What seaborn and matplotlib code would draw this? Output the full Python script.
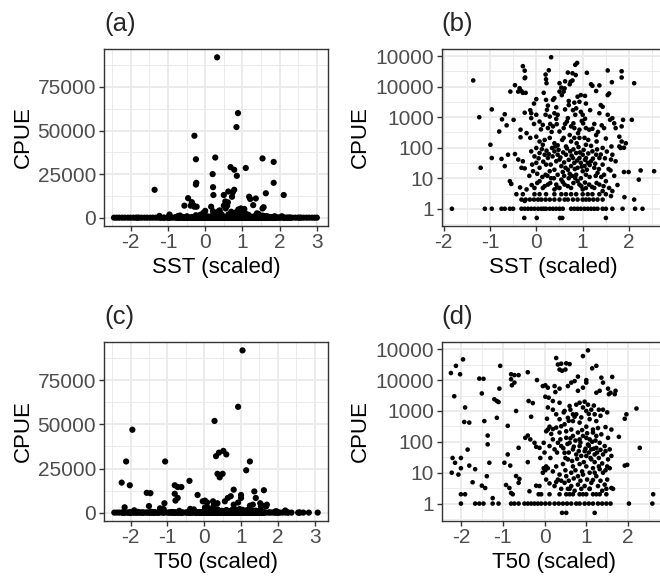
import pandas as pd
import matplotlib
matplotlib.use("Agg")
import matplotlib.pyplot as plt
import seaborn as sns
from matplotlib.ticker import FixedLocator

# ---- data: (scaled covariate, CPUE) ----
# SST panels: positive catches (CPUE >= 1000)
sst_big = [
    (0.32, 92000), (0.84, 52000), (0.88, 60000), (-0.29, 47000), (-0.25, 33500),
    (-0.24, 20000), (-0.25, 19000), (0.27, 34500), (0.20, 25000), (0.21, 17500),
    (0.22, 13000), (0.68, 29000), (0.78, 27500), (0.85, 24000), (0.78, 16000),
    (0.74, 14500), (0.72, 12000), (1.09, 28500), (1.54, 34000), (1.84, 32000),
    (1.84, 20000), (1.63, 14000), (2.11, 13000), (-1.36, 16000), (0.50, 13000),
    (0.54, 9300), (0.62, 15000), (0.61, 8800), (1.18, 12000), (1.21, 10700),
    (1.36, 11000), (1.29, 7200), (-0.46, 11200), (-0.36, 8900), (-0.39, 6900),
    (-0.32, 7200), (-0.29, 6300), (-0.23, 6300), (-0.56, 6900), (0.00, 3900),
    (0.16, 6300), (0.21, 3700), (0.36, 3700), (0.39, 4200), (0.70, 3400),
    (0.89, 4700), (0.96, 5300), (1.05, 5000), (0.93, 3200), (1.54, 5300),
    (1.57, 6000), (1.39, 2500), (1.43, 2200), (0.50, 6900), (0.59, 6900),
    (0.55, 5300), (0.43, 2100), (-0.96, 1800), (-1.23, 1000), (-0.68, 1250),
    (-0.13, 1700), (-0.11, 1350), (0.00, 1200), (0.23, 1740), (0.20, 1200),
    (0.29, 1050), (0.39, 1350), (0.46, 1200), (0.79, 1700), (0.86, 1950),
    (0.84, 1200), (0.96, 1500), (1.00, 1200), (1.36, 1350), (1.54, 1200),
    (1.16, 1700), (0.70, 2500), (0.62, 1800), (0.25, 2400), (1.07, 2800),
    (0.82, 3000), (-0.05, 2800), (-0.25, 1400),
]
# SST: 10 <= CPUE < 1000
sst_mid = [
    (-0.74, 850), (-0.64, 540), (-0.49, 820), (-0.80, 340), (-0.11, 930),
    (0.43, 880), (0.07, 720), (0.14, 560), (0.25, 440), (0.36, 500),
    (0.44, 590), (0.50, 340), (0.59, 440), (0.66, 720), (0.68, 930),
    (0.80, 630), (0.75, 500), (0.82, 440), (1.05, 890), (1.01, 630),
    (1.07, 440), (1.14, 390), (1.21, 420), (0.93, 390), (0.93, 210),
    (1.41, 540), (1.46, 440), (1.59, 820), (1.64, 930), (1.68, 630),
    (1.71, 440), (1.84, 500), (1.87, 820), (2.06, 820), (1.79, 230),
    (1.84, 160), (1.89, 100), (1.93, 140), (-0.34, 390), (-0.34, 220),
    (-0.21, 300), (-0.13, 210), (0.00, 230), (0.07, 160), (0.00, 98),
    (0.14, 125), (0.29, 210), (0.39, 140), (0.46, 120), (0.34, 98),
    (0.59, 210), (0.64, 110), (0.75, 160), (0.82, 210), (0.87, 140),
    (1.04, 210), (1.07, 125), (1.29, 260), (1.30, 160), (1.43, 98),
    (-0.99, 125), (-0.61, 59), (-0.75, 43), (-0.68, 25), (-0.96, 46),
    (-1.20, 22), (-0.46, 62), (-0.39, 41), (-0.29, 36), (-0.32, 22),
    (-0.25, 21), (-0.11, 76), (-0.04, 52), (0.07, 67), (0.00, 32),
    (0.07, 22), (-0.07, 17), (0.18, 59), (0.25, 46), (0.21, 28),
    (0.29, 17), (0.20, 13), (0.32, 10), (0.39, 76), (0.46, 59),
    (0.43, 36), (0.50, 41), (0.54, 25), (0.39, 19), (0.46, 13),
    (0.57, 16), (0.64, 59), (0.73, 76), (0.79, 46), (0.86, 67),
    (0.82, 32), (0.75, 25), (0.68, 19), (0.89, 22), (0.86, 13),
    (0.77, 12), (0.93, 46), (1.00, 59), (0.96, 32), (1.07, 46),
    (1.04, 25), (1.11, 32), (1.00, 17), (1.07, 13), (0.96, 10),
    (1.21, 76), (1.29, 59), (1.18, 36), (1.36, 46), (1.25, 22),
    (1.43, 28), (1.32, 15), (1.46, 13), (1.64, 59), (1.61, 41),
    (1.71, 36), (1.79, 110), (1.82, 98), (1.89, 16), (1.99, 16),
    (2.25, 18), (2.54, 17), (0.05, 45), (0.12, 90), (0.15, 35),
    (0.22, 80), (0.27, 62), (0.31, 28), (0.35, 52), (0.41, 110),
    (0.48, 85), (0.52, 48), (0.58, 70), (0.60, 33), (0.63, 22),
    (0.66, 95), (0.70, 40), (0.72, 14), (0.76, 55), (0.80, 88),
    (0.83, 20), (0.88, 38), (0.91, 105), (0.94, 70), (0.98, 24),
    (1.02, 85), (1.05, 40), (1.09, 19), (1.12, 65), (1.15, 27),
    (1.18, 115), (1.22, 44), (1.27, 30), (1.31, 88), (1.35, 20),
    (1.39, 60), (1.48, 45), (1.52, 75), (1.56, 20), (0.56, 180),
    (0.72, 260), (0.90, 300), (1.12, 180), (0.18, 180), (0.33, 330),
    (0.62, 600), (0.98, 750), (1.25, 600), (0.10, 400), (-0.05, 600),
    (0.30, 600), (1.33, 330), (1.50, 200), (1.62, 110), (1.60, 18),
    (1.68, 12), (-0.15, 12), (-0.09, 28), (0.02, 14), (0.13, 11),
    (0.24, 12), (0.38, 10), (0.60, 12), (0.70, 10), (0.84, 10),
    (1.15, 11), (1.28, 12), (1.40, 11),
]
# SST: 1 < CPUE < 10
sst_low = [
    (-0.57, 8), (-0.54, 6.5), (-0.21, 4.3), (-0.25, 1.8), (0.54, 9),
    (0.43, 6.2), (0.89, 8), (2.21, 9), (2.11, 2), (1.90, 2.4),
    (1.64, 3.8), (1.61, 2.6), (0.07, 8), (0.14, 4.8), (0.25, 6.2),
    (0.39, 4.3), (0.50, 4.8), (0.61, 6.2), (0.75, 4.8), (0.93, 6.2),
    (1.00, 4.3), (1.07, 4.8), (1.14, 6.2), (1.25, 4.8), (1.36, 6.2),
    (1.43, 3.8), (1.50, 8), (1.57, 4.8), (-0.04, 4.8), (1.75, 6),
    (0.02, 7), (0.18, 5.5), (0.30, 7), (0.45, 5), (0.57, 7.5),
    (0.68, 5.5), (0.80, 7), (0.97, 5.5), (1.05, 7.2), (1.20, 5.2),
    (1.30, 7), (1.45, 5.5), (-0.10, 6), (-0.35, 5),
]
sst_cpue3 = [-0.43, -0.29, -0.04, 0.07, 0.21, 0.39, 0.54, 0.64, 0.75, 0.86,
             1.00, 1.11, 1.21, 1.36, 1.50]
sst_cpue2 = [-0.32, -0.23, -0.14, -0.05, 0.04, 0.11, 0.20, 0.29, 0.39, 0.50,
             0.61, 0.68, 0.79, 0.89, 1.00, 1.07, 1.14, 1.23, 1.32, 1.43]
sst_cpue1 = [-1.82, -1.11, -0.96, -0.75, -0.68, -0.57, -0.50, -0.32, -0.25, -0.18,
             -0.11, -0.04, 0.04, 0.11, 0.16, 0.21, 0.29, 0.36, 0.43, 0.50,
             0.57, 0.75, 0.82, 0.89, 0.96, 1.04, 1.11, 1.18, 1.25, 1.32,
             1.43, 1.50, 1.64, 1.86, 2.13, 2.29]
sst_cpue_half = [-0.26, 0.01, 0.51, 0.56, 1.50]
sst_zero = [-2.45, -2.38, -2.31, -2.23, -2.16, -2.08, -2.01, -1.93, -1.86, -1.78,
            -1.71, -1.63, -1.56, -1.48, -1.41, -1.33, -1.26, -1.18, -1.11, -1.03,
            -0.96, -0.88, -0.81, -0.73, -0.66, -0.58, -0.51, -0.43, -0.36, -0.28,
            -0.21, -0.13, -0.06, 0.02, 0.09, 0.17, 0.24, 0.32, 0.39, 0.47,
            0.54, 0.62, 0.69, 0.77, 0.84, 0.92, 0.99, 1.07, 1.14, 1.22,
            1.29, 1.37, 1.44, 1.52, 1.59, 1.67, 1.74, 1.82, 1.89, 1.97,
            2.04, 2.12, 2.19, 2.27, 2.34, 2.42, 2.49, 2.57, 2.64, 2.72,
            2.79, 2.87, 2.94, 3.00]

# T50 panels
t50_big = [
    (-2.24, 17000), (-2.12, 29000), (-1.95, 47000), (-2.02, 15500), (-2.16, 3000),
    (-1.90, 1300), (-1.56, 11200), (-1.46, 11000), (-1.50, 3700), (-1.20, 2400),
    (-1.14, 2100), (-1.10, 1950), (-1.08, 5300), (-1.06, 29000), (-0.80, 15500),
    (-0.80, 10700), (-0.72, 14500), (-0.62, 14500), (-0.72, 8300), (-0.78, 6800),
    (-0.68, 1000), (-0.40, 18000), (-0.18, 10000), (-0.38, 2100), (-0.28, 1800),
    (0.02, 2900), (0.10, 2700), (-0.04, 6400), (0.02, 6800), (0.08, 5700),
    (0.24, 6400), (0.26, 4100), (0.36, 5300), (0.08, 1300), (0.20, 1100),
    (0.28, 52000), (0.32, 32000), (0.40, 34000), (0.36, 22000), (0.42, 20000),
    (0.52, 35000), (0.60, 33000), (0.50, 22000), (0.92, 60000), (1.04, 92000),
    (1.24, 29000), (1.14, 24000), (1.36, 12000), (1.62, 12700), (0.64, 8300),
    (0.56, 6400), (0.72, 9300), (0.80, 4500), (0.92, 5700), (1.00, 8300),
    (0.80, 13000), (1.00, 10000), (1.24, 3900), (1.32, 4500), (1.52, 5300),
    (1.58, 3900), (1.70, 4500), (1.40, 8300), (1.54, 3500), (1.68, 3500),
    (0.20, 2100), (0.36, 1850), (0.48, 1000), (0.60, 1450), (0.76, 1600),
    (0.84, 1850), (0.92, 1300), (1.04, 1600), (1.12, 1100), (1.30, 1100),
    (1.40, 1100), (1.00, 1000), (2.20, 1200), (0.62, 1100), (0.96, 2000),
    (1.18, 1500),
]
t50_mid = [
    (-1.92, 440), (-1.80, 420), (-1.84, 56), (-2.20, 30), (-2.14, 21),
    (-2.00, 30), (-2.22, 10), (-2.00, 14), (-1.80, 17), (-1.66, 13),
    (-1.32, 21), (-1.36, 83), (-1.36, 160), (-1.44, 470), (-1.14, 600),
    (-0.88, 330), (-0.88, 39), (-0.96, 21), (-0.82, 17), (-0.32, 650),
    (-0.62, 64), (-0.46, 135), (-0.40, 160), (-0.34, 120), (-0.24, 93),
    (-0.20, 69), (-0.12, 64), (-0.02, 93), (-0.40, 22), (-0.02, 14),
    (0.02, 12), (0.08, 14), (0.04, 220), (0.12, 310), (0.20, 260),
    (0.28, 780), (0.06, 560), (0.56, 600), (0.68, 780), (1.20, 780),
    (1.08, 540), (1.24, 470), (1.00, 310), (1.16, 250), (1.60, 250),
    (1.78, 145), (1.92, 560), (1.96, 780), (2.28, 64), (1.92, 17),
    (1.98, 18), (0.32, 93), (0.24, 57), (0.40, 73), (0.48, 44),
    (0.60, 93), (0.68, 57), (0.76, 39), (0.84, 73), (0.96, 50),
    (1.04, 82), (1.12, 57), (1.20, 39), (1.00, 35), (1.12, 27),
    (1.24, 64), (1.32, 93), (1.44, 73), (1.56, 57), (1.40, 39),
    (1.52, 27), (0.56, 27), (0.44, 19), (0.68, 16), (0.84, 19),
    (1.00, 16), (1.16, 14), (1.32, 13), (0.28, 16), (0.20, 11),
    (0.64, 10), (1.08, 10), (1.40, 10), (1.56, 14), (-0.04, 10),
    (0.04, 16), (0.08, 250), (0.28, 290), (0.48, 370), (0.64, 250),
    (0.80, 200), (0.92, 155), (1.08, 120), (1.24, 155), (1.36, 175),
    (1.52, 135), (0.52, 135), (0.68, 155), (0.84, 120), (1.00, 135),
    (1.16, 200), (0.68, 470), (0.84, 420), (0.52, 220), (0.36, 540),
    (0.76, 780), (0.36, 200), (0.20, 120), (0.12, 73), (0.30, 45),
    (0.38, 120), (0.45, 62), (0.50, 30), (0.55, 85), (0.58, 45),
    (0.62, 130), (0.66, 24), (0.70, 70), (0.74, 110), (0.78, 28),
    (0.82, 50), (0.86, 95), (0.88, 35), (0.90, 240), (0.94, 22),
    (0.98, 60), (1.02, 190), (1.06, 45), (1.06, 75), (1.10, 30),
    (1.14, 100), (1.18, 60), (1.20, 22), (1.22, 110), (1.26, 45),
    (1.30, 30), (1.34, 55), (1.38, 20), (1.46, 50), (1.50, 16),
    (1.60, 35), (0.40, 320), (0.58, 480), (0.72, 650), (0.88, 620),
    (1.06, 800), (1.28, 280), (1.46, 300), (0.46, 900), (1.34, 700),
    (1.50, 900), (0.50, 12), (0.74, 12), (0.90, 11), (1.20, 10),
    (1.30, 16), (1.46, 12), (0.14, 30), (0.00, 45), (-0.10, 30),
    (0.16, 180),
]
t50_low = [
    (-2.06, 8.7), (-1.72, 4.9), (-2.00, 2), (-1.90, 2), (-1.50, 3.8),
    (-1.42, 3.2), (-1.24, 1.5), (-1.38, 7.7), (-0.92, 4), (-0.84, 3.2),
    (-0.80, 2.2), (-0.76, 2), (-0.68, 7.8), (-0.60, 6.3), (-0.62, 4.7),
    (-0.20, 3.8), (-0.12, 3.7), (-0.36, 2.5), (-0.14, 2), (-0.08, 2),
    (0.04, 6), (2.60, 2), (0.36, 8.7), (0.52, 7.7), (0.80, 7.7),
    (0.92, 8.7), (1.24, 7.7), (0.32, 6), (0.48, 4.7), (0.64, 3.7),
    (0.80, 4.1), (0.96, 3.7), (1.12, 4.7), (1.28, 3.7), (1.44, 4.1),
    (0.24, 3.7), (0.40, 5.5), (0.58, 5.5), (0.70, 6.5), (0.86, 5.5),
    (1.02, 6), (1.16, 5.8), (1.34, 5.5), (1.50, 6), (0.12, 4.5),
    (0.28, 5), (1.08, 3), (0.72, 2.6), (0.56, 3), (1.38, 2.6),
    (1.60, 3.2),
]
t50_cpue3 = [0.40, 0.60, 0.88, 1.08, 1.48, 1.64]
t50_cpue2 = [0.12, 0.36, 0.52, 0.68, 0.84, 1.00, 1.16, 1.32, 1.48, 0.60, 0.92, 1.24]
t50_cpue1 = [-2.00, -1.66, -1.56, -1.46, -1.24, -1.10, -0.80, -0.72, -0.62, -0.48,
             -0.40, -0.32, -0.24, -0.16, -0.08, 0.02, 0.12, 0.24, 0.34, 0.44,
             0.54, 0.64, 0.76, 0.84, 0.96, 1.06, 1.16, 1.28, 1.38, 1.48,
             1.58, 2.02, 2.58]
t50_cpue_half = [0.42, 0.52, 1.20]
t50_zero = [-2.44, -2.37, -2.30, -2.22, -2.15, -2.07, -2.00, -1.92, -1.85, -1.77,
            -1.70, -1.62, -1.55, -1.47, -1.40, -1.32, -1.25, -1.17, -1.10, -1.02,
            -0.95, -0.87, -0.80, -0.72, -0.65, -0.57, -0.50, -0.42, -0.35, -0.27,
            -0.20, -0.12, -0.05, 0.03, 0.10, 0.18, 0.25, 0.33, 0.40, 0.48,
            0.55, 0.63, 0.70, 0.78, 0.85, 0.93, 1.00, 1.08, 1.15, 1.23,
            1.30, 1.38, 1.45, 1.53, 1.60, 1.68, 1.75, 1.83, 1.90, 1.98,
            2.05, 2.12, 2.20, 2.27, 2.37, 2.55, 2.69, 2.84, 3.08]


def positives(big, mid, low, c3, c2, c1, chalf):
    rows = big + mid + low
    rows += [(x, 3) for x in c3] + [(x, 2) for x in c2]
    rows += [(x, 1) for x in c1] + [(x, 0.5) for x in chalf]
    return pd.DataFrame(rows, columns=["x", "cpue"])


sst_pos = positives(sst_big, sst_mid, sst_low, sst_cpue3, sst_cpue2,
                    sst_cpue1, sst_cpue_half)
t50_pos = positives(t50_big, t50_mid, t50_low, t50_cpue3, t50_cpue2,
                    t50_cpue1, t50_cpue_half)
sst_all = pd.concat([sst_pos, pd.DataFrame({"x": sst_zero, "cpue": 0.0})])
t50_all = pd.concat([t50_pos, pd.DataFrame({"x": t50_zero, "cpue": 0.0})])

sns.set_theme(style="white")
plt.rcParams["font.family"] = ["Liberation Sans", "DejaVu Sans"]
plt.rcParams["axes.unicode_minus"] = False

fig = plt.figure(figsize=(6.6, 5.8), dpi=100)
W, H = 660, 580


def add_ax(left, top, bottom, width=224):
    return fig.add_axes([left / W, 1 - bottom / H, width / W, (bottom - top) / H])


ax_a = add_ax(104, 49.3, 225.7)
ax_b = add_ax(441.7, 49.3, 225.7)
ax_c = add_ax(104, 342.3, 520.7)
ax_d = add_ax(441.7, 342.3, 520.7)

grid_col = "#EBEBEB"
log_ticks = [1, 10, 100, 1000, 10000, 100000]
log_labels = ["1", "10", "100", "1000", "10000", "10000"]


def style(ax, xlim, log, title, xlabel):
    ax.set_xlim(xlim)
    lo, hi = xlim
    ax.xaxis.set_major_locator(FixedLocator([v for v in range(-3, 4) if lo < v < hi]))
    ax.xaxis.set_minor_locator(FixedLocator([v + 0.5 for v in range(-4, 4) if lo < v + 0.5 < hi]))
    if log:
        ax.set_yscale("log")
        ax.set_ylim(10 ** -0.555, 10 ** 5.225)
        ax.yaxis.set_major_locator(FixedLocator(log_ticks))
        ax.set_yticklabels(log_labels)
        ax.yaxis.set_minor_locator(FixedLocator([10 ** (k + 0.5) for k in range(-1, 5)]))
    else:
        ax.set_ylim(-4600, 96600)
        ax.yaxis.set_major_locator(FixedLocator([0, 25000, 50000, 75000]))
        ax.set_yticklabels(["0", "25000", "50000", "75000"])
        ax.yaxis.set_minor_locator(FixedLocator([12500, 37500, 62500, 87500]))
    ax.grid(which="major", color=grid_col, linewidth=1.4)
    ax.grid(which="minor", color=grid_col, linewidth=0.7)
    ax.set_axisbelow(True)
    for sp in ax.spines.values():
        sp.set_color("#333333")
        sp.set_linewidth(1.0)
    ax.tick_params(which="major", length=3.6, width=1.0, color="#333333",
                   labelcolor="#4D4D4D", labelsize=15, pad=2,
                   bottom=True, left=True)
    ax.tick_params(which="minor", length=0)
    ax.set_xlabel(xlabel, fontsize=16, color="black", labelpad=3)
    ax.set_ylabel("CPUE", fontsize=16, color="black", labelpad=3)
    ax.set_title(title, loc="left", fontsize=18.5, pad=13)


sns.scatterplot(data=sst_all, x="x", y="cpue", ax=ax_a, color="black", s=20,
                edgecolor="none", legend=False)
sns.scatterplot(data=sst_pos, x="x", y="cpue", ax=ax_b, color="black", s=11,
                edgecolor="none", legend=False)
sns.scatterplot(data=t50_all, x="x", y="cpue", ax=ax_c, color="black", s=20,
                edgecolor="none", legend=False)
sns.scatterplot(data=t50_pos, x="x", y="cpue", ax=ax_d, color="black", s=11,
                edgecolor="none", legend=False)

style(ax_a, (-2.72, 3.30), False, "(a)", "SST (scaled)")
style(ax_b, (-2.04, 2.79), True, "(b)", "SST (scaled)")
style(ax_c, (-2.72, 3.36), False, "(c)", "T50 (scaled)")
style(ax_d, (-2.46, 2.90), True, "(d)", "T50 (scaled)")

fig.savefig("out.png", dpi=100)
